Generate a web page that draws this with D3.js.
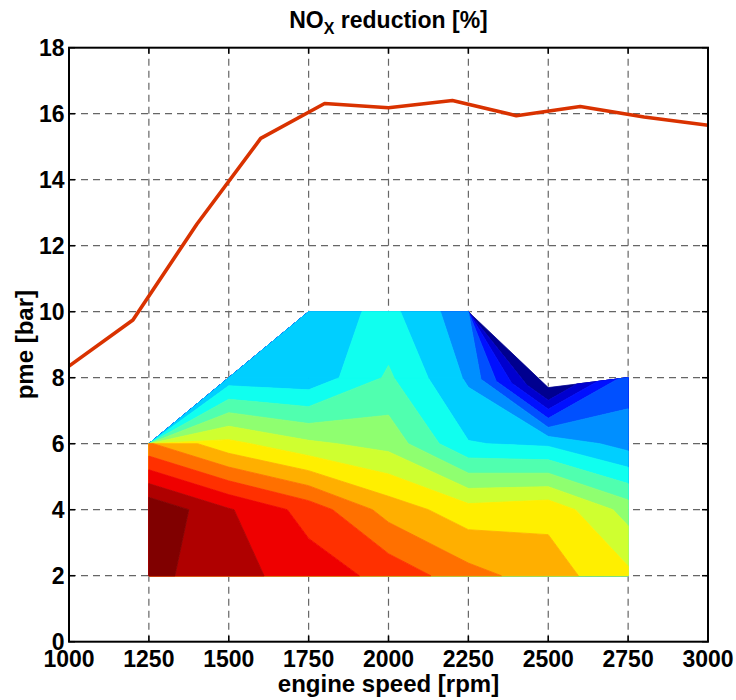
<!DOCTYPE html>
<html><head><meta charset="utf-8">
<script src="https://cdn.jsdelivr.net/npm/d3@7"></script>
<style>body{margin:0;background:#fff}svg{display:block}</style>
</head><body>
<svg id="chart" width="736" height="700"></svg>
<script>
// ---------- data ----------
const speedTicks = [1000,1250,1500,1750,2000,2250,2500,2750,3000];
const pmeTicks = [0,2,4,6,8,10,12,14,16,18];

// full-load curve
const loadSpeed = [1000,1200,1400,1600,1800,2000,2200,2400,2600,2800,3000];
const loadPme   = [8.35,9.75,12.65,15.25,16.31,16.18,16.4,15.94,16.22,15.9,15.65];

// NOx reduction map, lower patch (structured grid, columns = speeds)
const mapSpeeds = [1250,1500,1750,2000,2250,2500,2750];
const mapPmeRows = [2,4,6];
const mapPmeTop  = [6,8,8,8,8,7.7,8];
const noxRow2 = [81.5,76.9,72.6,68.5,61.9,57.3,51.2];
const noxRow4 = [84.5,75.5,68.0,58.0,52.0,53.6,43.0];
const noxRow6 = [60.5,51.5,46.0,43.2,30.3,29.0,22.8];
const noxTop  = [27.0,27.0,26.4,35.8,24.1,-2.0,17.5];

// upper patch (pme 8..10), top row nodes
const upperSpeeds = [1500,1750,2000,2250,2250];
const upperPme    = [8,10,10,10,10];
const noxUpper    = [27.0,27.0,31.5,21.5,-2.0];

// contour levels [%]
const levels = [5,10,15,20,25,30,35,40,45,50,55,60,65,70,75,80];

// ---------- layout ----------
const W = 736, H = 700;
const m = {left:69, right:28, top:47.7, bottom:58.3};
const x = d3.scaleLinear().domain([1000,3000]).range([m.left, W - m.right]);
const y = d3.scaleLinear().domain([0,18]).range([H - m.bottom, m.top]);

const svg = d3.select('#chart');
svg.append('rect').attr('width',W).attr('height',H).attr('fill','#fff');

// jet(64) colormap as in MATLAB
function jet64(k) { // k: 1..64
  const mm = 16;
  const u = [];
  for (let i = 1; i <= mm; i++) u.push(i/mm);
  for (let i = 1; i < mm; i++) u.push(1);
  for (let i = mm; i >= 1; i--) u.push(i/mm);
  const gOff = 8;
  const ch = (off) => { const idx = k - off; return (idx >= 1 && idx <= u.length) ? u[idx-1] : 0; };
  const r = ch(gOff + mm), g = ch(gOff), b = ch(gOff - mm);
  return d3.rgb(r*255, g*255, b*255).formatHex();
}
const bandColor = (band) => jet64(Math.min(64, 1 + 4*band));

// build patches
const lowerPatch = { nx: mapSpeeds.length, ny: 4, X: [], Y: [], V: [] };
[noxRow2, noxRow4, noxRow6, noxTop].forEach((row, j) => {
  row.forEach((v, i) => {
    lowerPatch.X.push(mapSpeeds[i]);
    lowerPatch.Y.push(j < 3 ? mapPmeRows[j] : mapPmeTop[i]);
    lowerPatch.V.push(v);
  });
});
const upperPatch = { nx: upperSpeeds.length, ny: 2, X: [], Y: [], V: [] };
for (let i = 0; i < upperSpeeds.length; i++) {
  upperPatch.X.push(mapSpeeds[i+1]); upperPatch.Y.push(mapPmeTop[i+1]); upperPatch.V.push(noxTop[i+1]);
}
for (let i = 0; i < upperSpeeds.length; i++) {
  upperPatch.X.push(upperSpeeds[i]); upperPatch.Y.push(upperPme[i]); upperPatch.V.push(noxUpper[i]);
}
const patches = [lowerPatch, upperPatch];

function toPixel(p, pt) {
  const ix = Math.max(0, Math.min(p.nx - 1, pt[0] - 0.5));
  const iy = Math.max(0, Math.min(p.ny - 1, pt[1] - 0.5));
  const i0 = Math.min(p.nx - 2, Math.floor(ix)), j0 = Math.min(p.ny - 2, Math.floor(iy));
  const fx = ix - i0, fy = iy - j0;
  const id = (i, j) => j * p.nx + i;
  const bl = arr => (1-fx)*(1-fy)*arr[id(i0,j0)] + fx*(1-fy)*arr[id(i0+1,j0)]
                  + (1-fx)*fy*arr[id(i0,j0+1)] + fx*fy*arr[id(i0+1,j0+1)];
  return [x(bl(p.X)), y(bl(p.Y))];
}
function ringsPath(p, geom) {
  let d = '';
  geom.coordinates.forEach(poly => poly.forEach(ring => {
    d += 'M' + ring.map(pt => toPixel(p, pt).map(v => v.toFixed(2)).join(',')).join('L') + 'Z';
  }));
  return d;
}
const allThresholds = [-1e6, ...levels];
const patchContours = patches.map(p => d3.contours().size([p.nx, p.ny]).thresholds(allThresholds)(p.V));

// domain outline (union of patches) used to hide grid under the map
const domainPath = patches.map((p, pi) => ringsPath(p, patchContours[pi][0])).join('');
const defs = svg.append('defs');
const mask = defs.append('mask').attr('id','gridMask').attr('maskUnits','userSpaceOnUse')
  .attr('x',0).attr('y',0).attr('width',W).attr('height',H);
mask.append('rect').attr('width',W).attr('height',H).attr('fill','#fff');
mask.append('path').attr('d', domainPath).attr('fill','#000').attr('stroke','#000').attr('stroke-width',1.5);

// grid
const gGrid = svg.append('g').attr('mask','url(#gridMask)')
  .attr('stroke','#666').attr('stroke-width',1.2).attr('stroke-dasharray','7,5');
speedTicks.slice(1,-1).forEach(s => {
  gGrid.append('line').attr('x1',x(s)).attr('x2',x(s)).attr('y1',y(0)).attr('y2',y(18));
});
pmeTicks.slice(1,-1).forEach(p => {
  gGrid.append('line').attr('x1',x(1000)).attr('x2',x(3000)).attr('y1',y(p)).attr('y2',y(p));
});

// filled contour bands: one path per band, combining both patches
const gMap = svg.append('g');
allThresholds.forEach((t, band) => {
  let d = '';
  patches.forEach((p, pi) => {
    const cs = patchContours[pi];
    const outer = ringsPath(p, cs[band]);
    if (!outer) return;
    d += outer + (band + 1 < cs.length ? ringsPath(p, cs[band + 1]) : '');
  });
  if (!d) return;
  const col = bandColor(band);
  gMap.append('path').attr('d', d).attr('fill', col).attr('fill-rule','evenodd')
    .attr('stroke', col).attr('stroke-width', 0.8).attr('stroke-linejoin','round');
});

// full load line
svg.append('path')
  .datum(loadSpeed.map((s,i) => [s, loadPme[i]]))
  .attr('fill','none').attr('stroke','#d93200').attr('stroke-width',3.6)
  .attr('stroke-linejoin','round')
  .attr('d', d3.line().x(d => x(d[0])).y(d => y(d[1])));

// axes box + inner ticks
const gAx = svg.append('g').attr('stroke','#000');
const tl = 6;
speedTicks.forEach(s => {
  gAx.append('line').attr('x1',x(s)).attr('x2',x(s)).attr('y1',y(0)).attr('y2',y(0)-tl).attr('stroke-width',1.5);
  gAx.append('line').attr('x1',x(s)).attr('x2',x(s)).attr('y1',y(18)).attr('y2',y(18)+tl).attr('stroke-width',1.5);
});
pmeTicks.forEach(p => {
  gAx.append('line').attr('x1',x(1000)).attr('x2',x(1000)+tl).attr('y1',y(p)).attr('y2',y(p)).attr('stroke-width',1.5);
  gAx.append('line').attr('x1',x(3000)).attr('x2',x(3000)-tl).attr('y1',y(p)).attr('y2',y(p)).attr('stroke-width',1.5);
});
gAx.append('rect').attr('x',x(1000)).attr('y',y(18)).attr('width',x(3000)-x(1000)).attr('height',y(0)-y(18))
  .attr('fill','none').attr('stroke-width',2);

// tick labels
const font = "'Liberation Sans', Arial, Helvetica, sans-serif";
const gT = svg.append('g').attr('font-family',font).attr('font-weight','bold').attr('font-size',23).attr('fill','#000');
speedTicks.forEach(s => {
  gT.append('text').attr('x',x(s)).attr('y',667).attr('text-anchor','middle').text(s);
});
pmeTicks.forEach(p => {
  gT.append('text').attr('x',64.5).attr('y',y(p)+8.2).attr('text-anchor','end').text(p);
});

// title and axis labels
const title = svg.append('text').attr('x',(x(1000)+x(3000))/2).attr('y',28)
  .attr('text-anchor','middle').attr('font-family',font).attr('font-weight','bold').attr('font-size',23);
title.append('tspan').text('NO');
title.append('tspan').attr('font-size',16).attr('dy',6).text('X');
title.append('tspan').attr('dy',-6).text(' reduction [%]');

svg.append('text').attr('x',(x(1000)+x(3000))/2).attr('y',692)
  .attr('text-anchor','middle').attr('font-family',font).attr('font-weight','bold').attr('font-size',24)
  .text('engine speed [rpm]');
svg.append('text').attr('transform',`translate(33,${(y(0)+y(18))/2}) rotate(-90)`)
  .attr('text-anchor','middle').attr('font-family',font).attr('font-weight','bold').attr('font-size',24)
  .text('pme [bar]');
</script>
</body></html>
